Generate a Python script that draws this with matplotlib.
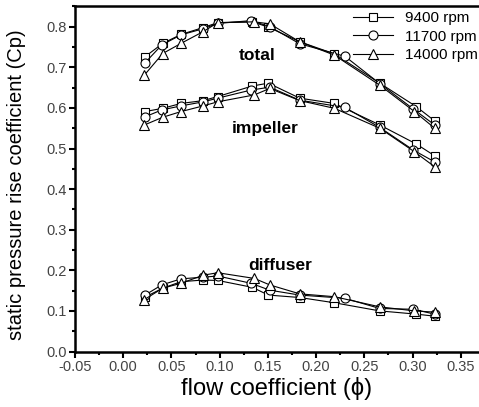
import matplotlib
matplotlib.use("Agg")
import matplotlib.pyplot as plt
from matplotlib.ticker import MultipleLocator

plt.rcParams['font.family'] = ['Liberation Sans', 'DejaVu Sans']

# flow coefficient for each speed
phi_9400 = [0.0226, 0.041, 0.060, 0.083, 0.098, 0.134, 0.1505, 0.183, 0.219, 0.266, 0.304, 0.323]
phi_11700 = [0.0226, 0.040, 0.060, 0.083, 0.098, 0.1326, 0.152, 0.183, 0.230, 0.266, 0.301, 0.323]
phi_14000 = [0.022, 0.041, 0.060, 0.083, 0.098, 0.136, 0.152, 0.183, 0.219, 0.266, 0.302, 0.323]

# total
total_9400 = [0.726, 0.759, 0.781, 0.798, 0.810, 0.812, 0.799, 0.763, 0.733, 0.661, 0.603, 0.568]
total_11700 = [0.711, 0.755, 0.780, 0.795, 0.808, 0.815, 0.800, 0.758, 0.727, 0.660, 0.597, 0.558]
total_14000 = [0.681, 0.734, 0.759, 0.788, 0.810, 0.812, 0.807, 0.763, 0.730, 0.656, 0.591, 0.550]

# impeller
imp_9400 = [0.591, 0.599, 0.611, 0.618, 0.628, 0.654, 0.661, 0.624, 0.611, 0.558, 0.511, 0.482]
imp_11700 = [0.578, 0.595, 0.605, 0.615, 0.624, 0.644, 0.651, 0.619, 0.601, 0.552, 0.496, 0.467]
imp_14000 = [0.558, 0.577, 0.591, 0.605, 0.615, 0.632, 0.648, 0.618, 0.599, 0.550, 0.492, 0.455]

# diffuser
dif_9400 = [0.134, 0.156, 0.172, 0.176, 0.175, 0.158, 0.139, 0.133, 0.120, 0.100, 0.092, 0.087]
dif_11700 = [0.139, 0.164, 0.179, 0.183, 0.186, 0.168, 0.151, 0.139, 0.131, 0.106, 0.104, 0.092]
dif_14000 = [0.128, 0.156, 0.168, 0.188, 0.194, 0.180, 0.164, 0.142, 0.135, 0.110, 0.100, 0.097]

speeds = ['9400 rpm', '11700 rpm', '14000 rpm']
markers = ['s', 'o', '^']
msizes = [6, 6.5, 7.5]

fig = plt.figure(figsize=(4.79, 4.07), dpi=100)
ax = fig.add_axes([75 / 479, 1 - 351.5 / 407, 405 / 479, (351.5 - 6) / 407])

series = [
    (phi_9400, total_9400, imp_9400, dif_9400),
    (phi_11700, total_11700, imp_11700, dif_11700),
    (phi_14000, total_14000, imp_14000, dif_14000),
]
handles = []
for (phi, tot, imp, dif), lab, m, ms in zip(series, speeds, markers, msizes):
    for i, yy in enumerate([tot, imp, dif]):
        ln, = ax.plot(phi, yy, color='black', lw=0.8, marker=m, ms=ms,
                      mfc='white', mec='black', mew=0.8,
                      label=lab if i == 0 else None)
        if i == 0:
            handles.append(ln)

ax.text(0.139, 0.728, 'total', fontsize=12.5, fontweight='bold', ha='center', va='center')
ax.text(0.147, 0.550, 'impeller', fontsize=12.5, fontweight='bold', ha='center', va='center')
ax.text(0.163, 0.213, 'diffuser', fontsize=12.5, fontweight='bold', ha='center', va='center')

ax.set_xlim(-0.05, 0.37)
ax.set_ylim(0.0, 0.851)
ax.set_xticks([-0.05, 0.00, 0.05, 0.10, 0.15, 0.20, 0.25, 0.30, 0.35])
ax.set_xticklabels(['-0.05', '0.00', '0.05', '0.10', '0.15', '0.20', '0.25', '0.30', '0.35'])
ax.set_yticks([0.0, 0.1, 0.2, 0.3, 0.4, 0.5, 0.6, 0.7, 0.8])
ax.xaxis.set_minor_locator(MultipleLocator(0.025))
ax.yaxis.set_minor_locator(MultipleLocator(0.05))
ax.tick_params(which='major', direction='out', length=4, width=1.5, labelsize=10.5,
               labelcolor='#444444', pad=2)
ax.tick_params(which='minor', direction='out', length=2, width=1.5)

for s in ['left', 'bottom', 'top']:
    ax.spines[s].set_linewidth(1.8)
ax.spines['right'].set_visible(False)

ax.set_xlabel('flow coefficient (\u03d5)', fontsize=17)
ax.xaxis.set_label_coords((276.5 - 75) / 405, -(377 - 351.5) / 345.5)
ax.set_ylabel('static pressure rise coefficient (Cp)', fontsize=14.5)
ax.yaxis.set_label_coords(-(75 - 26) / 405, (351.5 - 185) / 345.5)

ax.legend(handles=handles, loc='upper left', bbox_to_anchor=(353 / 479, 1 - 11 / 407),
          bbox_transform=fig.transFigure, frameon=False,
          fontsize=11, handlelength=2.6, handletextpad=0.8, labelspacing=0.3,
          borderpad=0, borderaxespad=0)

fig.savefig('out.png', dpi=100)
